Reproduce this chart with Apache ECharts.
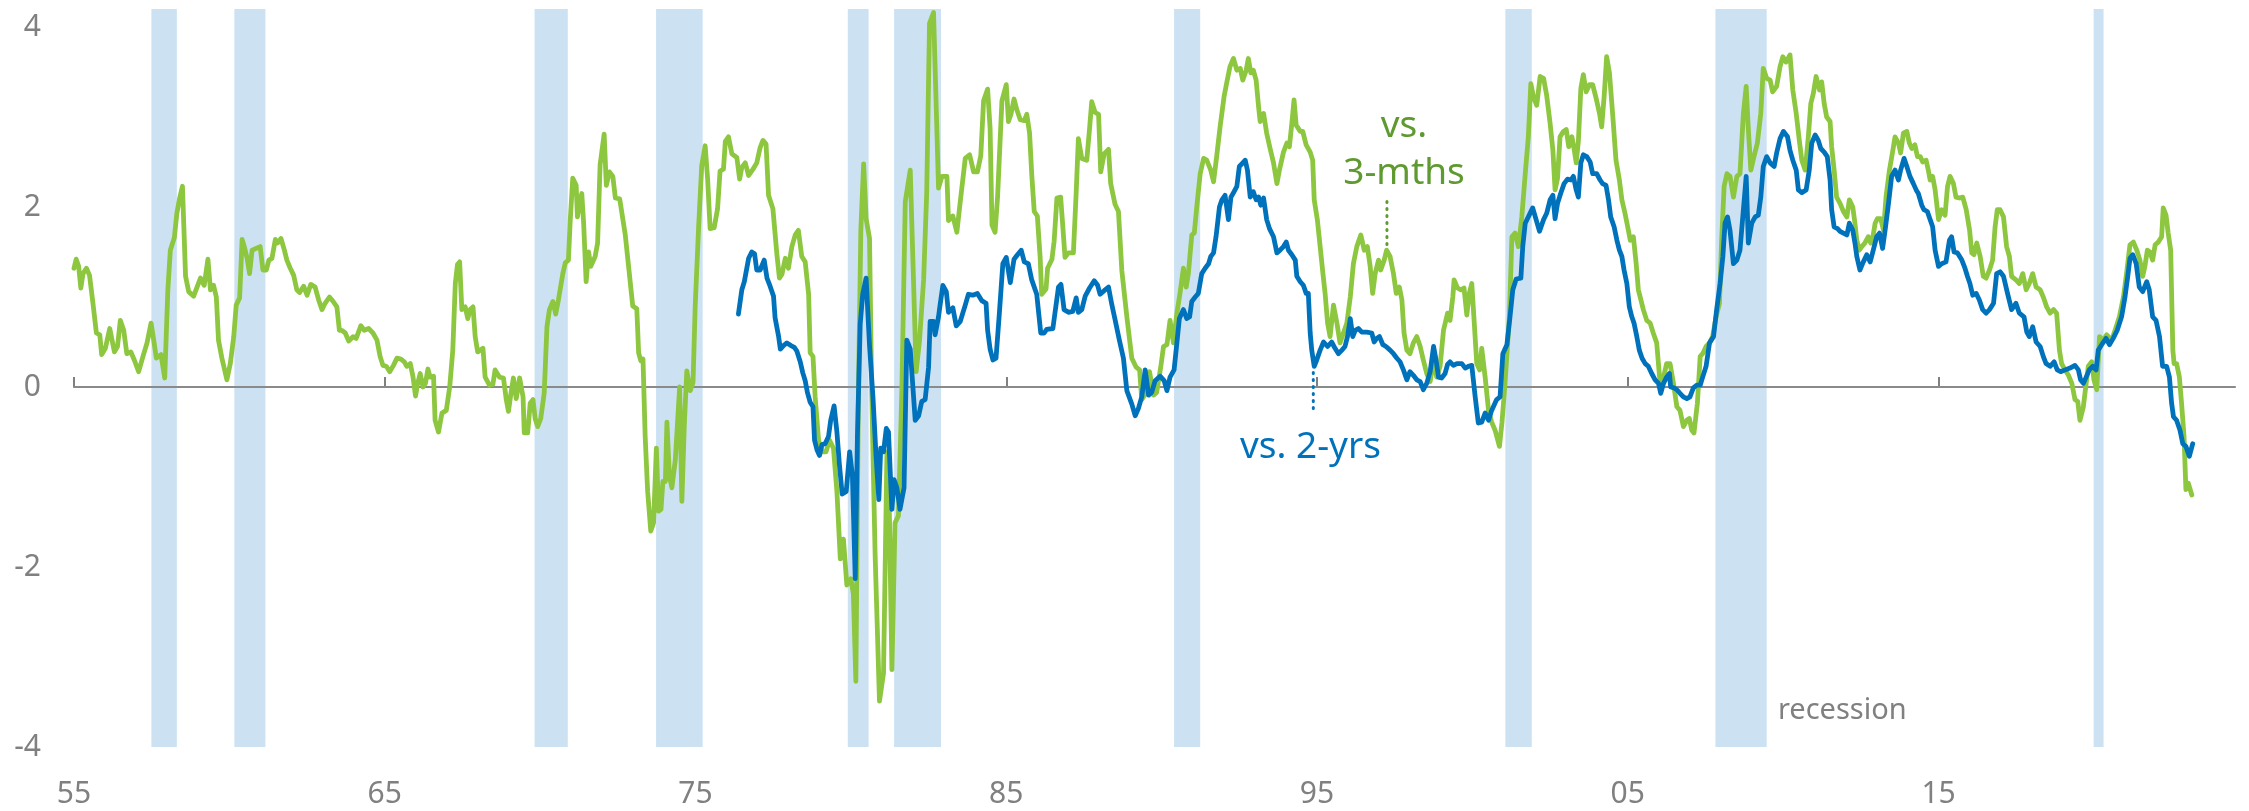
<!DOCTYPE html>
<html>
<head>
<meta charset="utf-8">
<script src="https://cdn.jsdelivr.net/npm/echarts@6/dist/echarts.min.js"></script>
<style>
  html, body { margin: 0; padding: 0; background: #ffffff; }
  #chart { width: 2249px; height: 811px; }
</style>
</head>
<body>
<div id="chart"></div>
<script>
// US recession periods (decimal years, start / end)
const recessions = [
  [1957.49, 1958.31], [1960.16, 1961.16], [1969.82, 1970.89], [1973.73, 1975.23],
  [1979.90, 1980.57], [1981.39, 1982.90], [1990.40, 1991.24], [2001.06, 2001.91],
  [2007.82, 2009.47], [2019.99, 2020.31]
];

// x-axis tick years (shown as two-digit labels)
const xTickYears = [1955, 1965, 1975, 1985, 1995, 2005, 2015];

// y-axis tick values
const yTicks = [-4, -2, 0, 2, 4];

// Term spread: 10-yr yield vs. 3-month bill  [decimal year, %-pts]
const vs3m = [
  [1955.00,1.32],[1955.07,1.42],[1955.15,1.34],[1955.22,1.10],[1955.29,1.26],[1955.40,1.32],[1955.50,1.24],[1955.61,0.93],
  [1955.72,0.60],[1955.83,0.58],[1955.89,0.36],[1956.01,0.43],[1956.15,0.65],[1956.30,0.39],[1956.40,0.45],[1956.49,0.74],
  [1956.60,0.63],[1956.70,0.37],[1956.83,0.39],[1956.94,0.30],[1957.08,0.17],[1957.22,0.34],[1957.35,0.49],[1957.48,0.71],
  [1957.54,0.58],[1957.65,0.32],[1957.80,0.36],[1957.92,0.10],[1958.02,1.08],[1958.10,1.52],[1958.23,1.66],[1958.31,1.93],
  [1958.40,2.10],[1958.49,2.23],[1958.59,1.23],[1958.69,1.06],[1958.85,1.01],[1958.96,1.11],[1959.07,1.21],[1959.19,1.13],
  [1959.31,1.42],[1959.39,1.08],[1959.49,1.13],[1959.58,1.00],[1959.65,0.52],[1959.76,0.32],[1959.92,0.08],[1960.03,0.26],
  [1960.14,0.56],[1960.22,0.91],[1960.33,0.99],[1960.41,1.64],[1960.48,1.56],[1960.57,1.43],[1960.65,1.26],[1960.73,1.52],
  [1960.86,1.54],[1960.99,1.56],[1961.08,1.30],[1961.19,1.30],[1961.27,1.41],[1961.37,1.43],[1961.48,1.64],[1961.55,1.60],
  [1961.66,1.65],[1961.77,1.52],[1961.85,1.41],[1961.96,1.32],[1962.07,1.24],[1962.17,1.08],[1962.26,1.05],[1962.39,1.12],
  [1962.50,1.02],[1962.62,1.14],[1962.76,1.11],[1962.87,0.97],[1962.98,0.86],[1963.08,0.93],[1963.22,1.00],[1963.34,0.95],
  [1963.46,0.89],[1963.54,0.63],[1963.62,0.63],[1963.73,0.60],[1963.84,0.51],[1963.98,0.56],[1964.08,0.54],[1964.23,0.68],
  [1964.34,0.63],[1964.48,0.65],[1964.62,0.60],[1964.75,0.52],[1964.85,0.34],[1964.94,0.24],[1965.05,0.23],[1965.16,0.17],
  [1965.28,0.24],[1965.39,0.32],[1965.52,0.31],[1965.63,0.28],[1965.71,0.23],[1965.82,0.26],[1965.91,0.11],[1965.99,-0.10],
  [1966.06,0.04],[1966.14,0.15],[1966.23,0.00],[1966.31,0.04],[1966.39,0.20],[1966.46,0.11],[1966.57,0.12],[1966.62,-0.37],
  [1966.73,-0.50],[1966.84,-0.29],[1966.98,-0.26],[1967.09,0.00],[1967.19,0.41],[1967.27,1.15],[1967.34,1.36],[1967.41,1.39],
  [1967.48,0.86],[1967.59,0.89],[1967.67,0.76],[1967.75,0.86],[1967.84,0.89],[1967.91,0.56],[1967.99,0.39],[1968.16,0.43],
  [1968.23,0.11],[1968.37,0.02],[1968.48,0.03],[1968.55,0.19],[1968.69,0.11],[1968.82,0.10],[1968.91,-0.14],[1968.98,-0.27],
  [1969.06,-0.07],[1969.14,0.10],[1969.23,-0.13],[1969.34,0.10],[1969.45,-0.11],[1969.49,-0.51],[1969.60,-0.51],[1969.68,-0.18],
  [1969.77,-0.14],[1969.84,-0.35],[1969.92,-0.44],[1970.02,-0.35],[1970.13,-0.07],[1970.22,0.67],[1970.30,0.86],[1970.41,0.95],
  [1970.50,0.81],[1970.59,0.97],[1970.73,1.26],[1970.81,1.38],[1970.91,1.41],[1970.97,1.86],[1971.05,2.32],[1971.16,2.24],
  [1971.20,1.89],[1971.27,2.04],[1971.34,2.15],[1971.40,1.82],[1971.48,1.17],[1971.56,1.50],[1971.63,1.34],[1971.77,1.45],
  [1971.85,1.60],[1971.93,2.47],[1972.06,2.81],[1972.13,2.24],[1972.23,2.39],[1972.34,2.34],[1972.42,2.10],[1972.56,2.09],
  [1972.74,1.69],[1972.98,0.90],[1973.11,0.87],[1973.17,0.38],[1973.24,0.29],[1973.31,0.31],[1973.38,-0.55],[1973.46,-1.16],
  [1973.56,-1.60],[1973.65,-1.51],[1973.74,-0.68],[1973.81,-1.38],[1973.89,-1.36],[1973.95,-1.05],[1974.03,-1.05],[1974.08,-0.39],
  [1974.16,-0.99],[1974.24,-1.12],[1974.35,-0.81],[1974.49,0.00],[1974.56,-1.27],[1974.64,-0.42],[1974.72,0.18],[1974.83,-0.04],
  [1974.92,0.05],[1974.99,0.90],[1975.10,1.78],[1975.20,2.46],[1975.31,2.68],[1975.39,2.31],[1975.47,1.76],[1975.60,1.77],
  [1975.71,1.98],[1975.79,2.40],[1975.90,2.42],[1975.96,2.73],[1976.06,2.78],[1976.17,2.59],[1976.33,2.55],[1976.42,2.31],
  [1976.49,2.44],[1976.60,2.49],[1976.71,2.35],[1976.85,2.42],[1976.97,2.49],[1977.08,2.66],[1977.17,2.74],[1977.27,2.70],
  [1977.35,2.13],[1977.49,1.98],[1977.62,1.47],[1977.70,1.21],[1977.78,1.25],[1977.89,1.43],[1977.99,1.32],[1978.10,1.56],
  [1978.21,1.69],[1978.31,1.74],[1978.42,1.45],[1978.53,1.39],[1978.64,1.03],[1978.69,0.38],[1978.78,0.34],[1978.85,-0.11],
  [1978.96,-0.59],[1979.07,-0.72],[1979.20,-0.72],[1979.31,-0.59],[1979.44,-0.68],[1979.55,-1.16],[1979.66,-1.91],[1979.76,-1.69],
  [1979.87,-2.20],[1980.00,-2.13],[1980.08,-2.30],[1980.16,-3.27],[1980.24,-0.11],[1980.32,1.74],[1980.41,2.48],[1980.49,1.87],
  [1980.60,1.65],[1980.67,-0.06],[1980.78,-1.87],[1980.92,-3.49],[1981.05,-3.18],[1981.16,-0.72],[1981.24,-1.43],[1981.32,-3.14],
  [1981.42,-1.51],[1981.53,-1.43],[1981.64,-0.04],[1981.75,2.06],[1981.91,2.41],[1982.01,1.24],[1982.10,0.17],[1982.21,0.52],
  [1982.34,1.19],[1982.44,2.16],[1982.53,4.04],[1982.66,4.16],[1982.74,3.18],[1982.82,2.21],[1982.93,2.34],[1983.09,2.34],
  [1983.14,1.85],[1983.28,1.90],[1983.41,1.72],[1983.52,2.06],[1983.68,2.54],[1983.82,2.58],[1983.95,2.39],[1984.07,2.39],
  [1984.18,2.57],[1984.27,3.18],[1984.40,3.31],[1984.48,2.87],[1984.54,1.80],[1984.64,1.72],[1984.72,2.11],[1984.86,3.18],
  [1985.00,3.36],[1985.07,2.95],[1985.15,3.03],[1985.25,3.20],[1985.34,3.08],[1985.45,2.97],[1985.58,2.96],[1985.66,3.03],
  [1985.75,2.82],[1985.82,2.36],[1985.90,1.95],[1986.00,1.90],[1986.09,1.44],[1986.14,1.03],[1986.28,1.09],[1986.33,1.32],
  [1986.47,1.42],[1986.54,1.62],[1986.63,2.10],[1986.75,2.11],[1986.82,1.78],[1986.89,1.44],[1987.00,1.49],[1987.16,1.49],
  [1987.25,2.16],[1987.32,2.76],[1987.43,2.54],[1987.59,2.52],[1987.68,2.87],[1987.75,3.17],[1987.86,3.05],[1987.97,3.03],
  [1988.04,2.39],[1988.15,2.59],[1988.29,2.64],[1988.36,2.26],[1988.50,2.03],[1988.61,1.95],[1988.72,1.29],[1988.88,0.78],
  [1989.04,0.32],[1989.18,0.22],[1989.29,0.19],[1989.36,-0.14],[1989.47,-0.08],[1989.61,0.17],[1989.74,-0.09],[1989.84,-0.06],
  [1989.97,0.22],[1990.06,0.45],[1990.17,0.47],[1990.27,0.74],[1990.38,0.49],[1990.49,0.82],[1990.59,1.04],[1990.70,1.32],
  [1990.79,1.11],[1990.86,1.26],[1990.97,1.69],[1991.05,1.71],[1991.13,2.00],[1991.24,2.37],[1991.35,2.54],[1991.45,2.52],
  [1991.58,2.41],[1991.67,2.28],[1991.77,2.56],[1991.88,2.89],[1992.01,3.23],[1992.10,3.39],[1992.20,3.56],[1992.31,3.65],
  [1992.42,3.52],[1992.53,3.54],[1992.61,3.41],[1992.72,3.52],[1992.79,3.65],[1992.87,3.49],[1992.95,3.52],[1993.04,3.41],
  [1993.12,3.11],[1993.17,2.95],[1993.28,3.04],[1993.38,2.82],[1993.49,2.65],[1993.60,2.49],[1993.71,2.26],[1993.79,2.41],
  [1993.92,2.61],[1994.03,2.71],[1994.11,2.67],[1994.19,2.93],[1994.26,3.19],[1994.33,2.91],[1994.46,2.84],[1994.54,2.84],
  [1994.65,2.69],[1994.78,2.61],[1994.86,2.52],[1994.91,2.08],[1995.01,1.86],[1995.10,1.56],[1995.19,1.26],[1995.26,1.04],
  [1995.34,0.71],[1995.42,0.56],[1995.53,0.91],[1995.64,0.71],[1995.74,0.49],[1995.85,0.60],[1995.96,0.71],[1996.07,1.00],
  [1996.17,1.37],[1996.28,1.56],[1996.41,1.69],[1996.52,1.52],[1996.62,1.56],[1996.71,1.34],[1996.79,1.04],[1996.87,1.26],
  [1996.98,1.41],[1997.05,1.30],[1997.16,1.41],[1997.24,1.52],[1997.35,1.45],[1997.46,1.26],[1997.55,1.04],[1997.65,1.11],
  [1997.73,0.97],[1997.80,0.60],[1997.89,0.41],[1997.99,0.37],[1998.10,0.49],[1998.21,0.56],[1998.32,0.45],[1998.42,0.30],
  [1998.53,0.15],[1998.64,0.06],[1998.75,0.30],[1998.85,0.11],[1998.96,0.23],[1999.07,0.63],[1999.20,0.82],[1999.28,0.74],
  [1999.37,1.00],[1999.41,1.19],[1999.52,1.10],[1999.63,1.08],[1999.73,1.10],[1999.82,0.80],[1999.90,1.04],[1999.98,1.15],
  [2000.06,0.71],[2000.14,0.26],[2000.23,0.19],[2000.30,0.43],[2000.41,0.11],[2000.52,-0.26],[2000.62,-0.39],[2000.73,-0.48],
  [2000.87,-0.66],[2000.95,-0.40],[2001.05,0.04],[2001.19,0.78],[2001.27,1.67],[2001.37,1.71],[2001.48,1.56],[2001.59,1.89],
  [2001.70,2.37],[2001.80,2.78],[2001.88,3.37],[2001.96,3.23],[2002.07,3.13],[2002.18,3.45],[2002.29,3.43],[2002.39,3.24],
  [2002.50,2.93],[2002.59,2.63],[2002.66,2.19],[2002.74,2.32],[2002.82,2.78],[2002.93,2.84],[2003.02,2.86],[2003.10,2.67],
  [2003.20,2.78],[2003.27,2.65],[2003.34,2.49],[2003.41,2.73],[2003.49,3.32],[2003.57,3.47],[2003.66,3.28],[2003.77,3.36],
  [2003.87,3.36],[2003.98,3.21],[2004.09,3.04],[2004.16,2.89],[2004.24,3.23],[2004.32,3.67],[2004.41,3.49],[2004.52,3.00],
  [2004.62,2.52],[2004.73,2.30],[2004.81,2.08],[2004.91,1.93],[2005.02,1.74],[2005.08,1.63],[2005.18,1.67],[2005.27,1.37],
  [2005.34,1.08],[2005.42,0.97],[2005.50,0.86],[2005.61,0.74],[2005.72,0.71],[2005.82,0.60],[2005.93,0.49],[2006.04,0.04],
  [2006.15,0.11],[2006.25,0.26],[2006.36,0.26],[2006.47,0.04],[2006.58,-0.22],[2006.68,-0.26],[2006.79,-0.44],[2006.90,-0.37],
  [2006.98,-0.35],[2007.06,-0.48],[2007.13,-0.51],[2007.24,-0.18],[2007.33,0.34],[2007.41,0.37],[2007.52,0.45],[2007.63,0.49],
  [2007.73,0.56],[2007.84,0.78],[2007.95,0.93],[2008.02,1.63],[2008.10,2.23],[2008.19,2.37],[2008.29,2.34],[2008.40,2.11],
  [2008.51,2.34],[2008.61,2.37],[2008.72,3.04],[2008.81,3.34],[2008.88,2.86],[2008.96,2.41],[2009.06,2.56],[2009.17,2.71],
  [2009.28,3.04],[2009.36,3.54],[2009.47,3.43],[2009.58,3.41],[2009.66,3.28],[2009.79,3.34],[2009.90,3.56],[2009.99,3.67],
  [2010.09,3.61],[2010.22,3.69],[2010.31,3.30],[2010.42,3.04],[2010.52,2.74],[2010.60,2.52],[2010.71,2.41],[2010.81,2.78],
  [2010.89,3.15],[2010.97,3.26],[2011.06,3.45],[2011.17,3.30],[2011.24,3.39],[2011.32,3.15],[2011.40,3.00],[2011.51,2.95],
  [2011.56,2.67],[2011.64,2.41],[2011.72,2.11],[2011.83,2.04],[2011.94,1.95],[2012.05,1.89],[2012.13,2.08],[2012.24,2.00],
  [2012.31,1.82],[2012.37,1.63],[2012.45,1.52],[2012.53,1.56],[2012.63,1.60],[2012.74,1.67],[2012.82,1.60],[2012.88,1.65],
  [2012.96,1.82],[2013.03,1.87],[2013.14,1.87],[2013.23,1.74],[2013.31,2.11],[2013.42,2.41],[2013.53,2.63],[2013.60,2.78],
  [2013.71,2.71],[2013.78,2.60],[2013.87,2.82],[2013.98,2.84],[2014.06,2.71],[2014.14,2.65],[2014.24,2.69],[2014.32,2.56],
  [2014.41,2.56],[2014.49,2.50],[2014.60,2.52],[2014.67,2.41],[2014.73,2.30],[2014.81,2.34],[2014.89,2.19],[2015.00,1.86],
  [2015.10,1.97],[2015.21,1.91],[2015.29,2.23],[2015.37,2.34],[2015.48,2.26],[2015.56,2.11],[2015.67,2.10],[2015.78,2.11],
  [2015.89,1.97],[2016.00,1.74],[2016.07,1.49],[2016.14,1.47],[2016.23,1.60],[2016.34,1.45],[2016.44,1.23],[2016.53,1.21],
  [2016.64,1.30],[2016.74,1.41],[2016.82,1.78],[2016.89,1.97],[2016.98,1.97],[2017.09,1.89],[2017.19,1.56],[2017.28,1.45],
  [2017.35,1.23],[2017.49,1.19],[2017.60,1.15],[2017.71,1.26],[2017.82,1.08],[2017.92,1.15],[2018.03,1.26],[2018.14,1.11],
  [2018.27,1.08],[2018.37,1.00],[2018.48,0.89],[2018.59,0.82],[2018.70,0.86],[2018.80,0.82],[2018.89,0.41],[2018.96,0.26],
  [2019.07,0.19],[2019.18,0.13],[2019.29,0.04],[2019.39,-0.14],[2019.48,-0.16],[2019.55,-0.37],[2019.66,-0.22],[2019.75,0.04],
  [2019.82,0.23],[2019.93,0.28],[2020.00,0.08],[2020.09,-0.03],[2020.18,0.56],[2020.30,0.52],[2020.41,0.58],[2020.57,0.52],
  [2020.68,0.63],[2020.82,0.78],[2020.95,1.00],[2021.05,1.26],[2021.16,1.58],[2021.27,1.61],[2021.38,1.52],[2021.48,1.41],
  [2021.57,1.23],[2021.64,1.34],[2021.72,1.52],[2021.80,1.50],[2021.89,1.41],[2021.97,1.58],[2022.07,1.61],[2022.18,1.67],
  [2022.23,1.99],[2022.32,1.91],[2022.39,1.71],[2022.47,1.52],[2022.54,0.41],[2022.58,0.26],[2022.66,0.26],[2022.75,0.11],
  [2022.82,-0.18],[2022.90,-0.55],[2022.96,-1.14],[2023.04,-1.07],[2023.15,-1.20]
];

// Term spread: 10-yr yield vs. 2-yr yield  [decimal year, %-pts]
const vs2y = [
  [1976.38,0.81],[1976.49,1.08],[1976.57,1.17],[1976.71,1.43],[1976.81,1.50],[1976.90,1.48],[1976.97,1.30],[1977.08,1.30],
  [1977.21,1.41],[1977.30,1.21],[1977.40,1.12],[1977.51,1.01],[1977.56,0.77],[1977.67,0.57],[1977.73,0.42],[1977.83,0.46],
  [1977.94,0.49],[1978.07,0.46],[1978.18,0.44],[1978.26,0.40],[1978.37,0.28],[1978.45,0.16],[1978.53,0.07],[1978.60,-0.06],
  [1978.69,-0.17],[1978.78,-0.22],[1978.83,-0.59],[1978.91,-0.70],[1978.99,-0.76],[1979.07,-0.64],[1979.17,-0.63],[1979.28,-0.55],
  [1979.35,-0.37],[1979.46,-0.21],[1979.55,-0.50],[1979.63,-0.86],[1979.72,-1.19],[1979.85,-1.16],[1979.96,-0.72],[1980.05,-0.99],
  [1980.14,-2.13],[1980.21,-0.55],[1980.30,0.70],[1980.38,1.03],[1980.49,1.21],[1980.60,0.46],[1980.71,-0.11],[1980.81,-0.77],
  [1980.90,-1.25],[1980.96,-0.68],[1981.05,-0.72],[1981.14,-0.46],[1981.21,-0.50],[1981.32,-1.36],[1981.39,-1.03],[1981.48,-1.12],
  [1981.58,-1.36],[1981.71,-1.12],[1981.80,0.52],[1981.91,0.42],[1982.07,-0.37],[1982.18,-0.32],[1982.28,-0.16],[1982.39,-0.14],
  [1982.50,0.22],[1982.55,0.73],[1982.66,0.73],[1982.71,0.58],[1982.82,0.78],[1982.87,0.91],[1982.96,1.13],[1983.07,1.06],
  [1983.14,0.83],[1983.28,0.88],[1983.39,0.68],[1983.52,0.73],[1983.68,0.91],[1983.78,1.03],[1983.92,1.02],[1984.07,1.04],
  [1984.21,0.96],[1984.35,0.93],[1984.40,0.63],[1984.48,0.42],[1984.57,0.30],[1984.67,0.32],[1984.78,0.83],[1984.89,1.37],
  [1985.00,1.44],[1985.13,1.16],[1985.25,1.42],[1985.36,1.47],[1985.48,1.52],[1985.58,1.39],[1985.71,1.37],[1985.82,1.19],
  [1985.98,1.03],[1986.11,0.60],[1986.22,0.60],[1986.30,0.64],[1986.50,0.65],[1986.57,0.83],[1986.68,1.11],[1986.76,1.14],
  [1986.86,0.86],[1987.00,0.83],[1987.14,0.84],[1987.25,0.99],[1987.32,0.83],[1987.43,0.86],[1987.54,1.01],[1987.68,1.10],
  [1987.83,1.18],[1987.94,1.13],[1988.02,1.03],[1988.15,1.07],[1988.29,1.11],[1988.40,0.91],[1988.50,0.75],[1988.64,0.52],
  [1988.77,0.32],[1988.88,-0.04],[1989.04,-0.19],[1989.15,-0.32],[1989.25,-0.24],[1989.36,-0.11],[1989.47,0.19],[1989.58,-0.09],
  [1989.68,-0.06],[1989.79,0.07],[1989.95,0.12],[1990.08,0.07],[1990.17,-0.04],[1990.27,0.11],[1990.40,0.19],[1990.49,0.49],
  [1990.57,0.76],[1990.70,0.86],[1990.81,0.76],[1990.90,0.78],[1990.97,0.95],[1991.08,1.00],[1991.18,1.04],[1991.29,1.26],
  [1991.40,1.32],[1991.51,1.37],[1991.58,1.45],[1991.67,1.49],[1991.75,1.67],[1991.86,2.00],[1991.94,2.08],[1992.04,2.13],
  [1992.15,1.86],[1992.23,2.11],[1992.33,2.17],[1992.42,2.23],[1992.50,2.45],[1992.61,2.49],[1992.69,2.52],[1992.76,2.41],
  [1992.85,2.11],[1992.95,2.17],[1993.04,2.08],[1993.12,2.11],[1993.19,2.02],[1993.28,2.10],[1993.38,1.86],[1993.47,1.76],
  [1993.60,1.67],[1993.71,1.49],[1993.81,1.52],[1993.92,1.56],[1994.01,1.61],[1994.08,1.52],[1994.19,1.47],[1994.30,1.41],
  [1994.35,1.23],[1994.46,1.17],[1994.56,1.13],[1994.65,1.04],[1994.72,1.04],[1994.78,0.60],[1994.83,0.41],[1994.91,0.23],
  [1994.99,0.30],[1995.10,0.41],[1995.21,0.50],[1995.34,0.45],[1995.47,0.50],[1995.58,0.43],[1995.69,0.37],[1995.80,0.41],
  [1995.90,0.45],[1995.98,0.56],[1996.07,0.76],[1996.15,0.56],[1996.23,0.63],[1996.33,0.65],[1996.44,0.61],[1996.60,0.61],
  [1996.76,0.60],[1996.84,0.50],[1996.92,0.54],[1997.01,0.56],[1997.12,0.47],[1997.22,0.45],[1997.35,0.41],[1997.46,0.37],
  [1997.57,0.32],[1997.67,0.28],[1997.78,0.19],[1997.89,0.08],[1997.99,0.17],[1998.10,0.13],[1998.21,0.08],[1998.32,0.06],
  [1998.42,-0.03],[1998.53,0.04],[1998.64,0.17],[1998.75,0.45],[1998.83,0.30],[1998.91,0.11],[1999.01,0.10],[1999.12,0.15],
  [1999.20,0.25],[1999.28,0.28],[1999.39,0.24],[1999.50,0.26],[1999.66,0.26],[1999.77,0.21],[1999.87,0.23],[1999.98,0.24],
  [2000.09,-0.11],[2000.19,-0.40],[2000.30,-0.39],[2000.41,-0.29],[2000.52,-0.37],[2000.62,-0.26],[2000.78,-0.14],[2000.89,-0.11],
  [2000.98,0.37],[2001.11,0.47],[2001.21,0.78],[2001.30,1.08],[2001.41,1.20],[2001.56,1.21],[2001.62,1.56],[2001.70,1.82],
  [2001.80,1.89],[2001.94,1.99],[2002.05,1.86],[2002.16,1.73],[2002.29,1.86],[2002.39,1.93],[2002.50,2.08],[2002.59,2.13],
  [2002.66,1.87],[2002.74,2.04],[2002.84,2.15],[2002.95,2.26],[2003.06,2.31],[2003.17,2.30],[2003.25,2.34],[2003.34,2.19],
  [2003.41,2.11],[2003.49,2.49],[2003.57,2.58],[2003.68,2.56],[2003.79,2.50],[2003.87,2.37],[2004.00,2.37],[2004.11,2.30],
  [2004.19,2.26],[2004.30,2.24],[2004.38,2.08],[2004.45,1.89],[2004.56,1.78],[2004.65,1.63],[2004.73,1.52],[2004.81,1.45],
  [2004.88,1.30],[2004.97,1.15],[2005.05,0.89],[2005.13,0.78],[2005.20,0.71],[2005.29,0.56],[2005.37,0.41],[2005.46,0.32],
  [2005.56,0.26],[2005.66,0.23],[2005.77,0.15],[2005.88,0.08],[2005.99,0.04],[2006.06,-0.07],[2006.15,0.04],[2006.25,0.11],
  [2006.34,0.15],[2006.38,0.00],[2006.49,-0.01],[2006.58,-0.03],[2006.68,-0.07],[2006.79,-0.11],[2006.90,-0.13],[2007.00,-0.11],
  [2007.11,-0.01],[2007.22,0.02],[2007.33,0.02],[2007.41,0.11],[2007.52,0.23],[2007.63,0.49],[2007.76,0.56],[2007.86,0.86],
  [2007.97,1.15],[2008.06,1.45],[2008.13,1.82],[2008.21,1.89],[2008.29,1.74],[2008.40,1.37],[2008.51,1.41],[2008.61,1.52],
  [2008.72,1.97],[2008.81,2.34],[2008.88,1.60],[2008.99,1.82],[2009.10,1.89],[2009.20,1.91],[2009.28,2.11],[2009.36,2.45],
  [2009.47,2.56],[2009.58,2.49],[2009.71,2.45],[2009.79,2.60],[2009.90,2.76],[2010.01,2.84],[2010.14,2.78],[2010.22,2.63],
  [2010.31,2.52],[2010.42,2.41],[2010.49,2.19],[2010.60,2.16],[2010.74,2.19],[2010.84,2.41],[2010.92,2.71],[2011.03,2.80],
  [2011.13,2.74],[2011.21,2.65],[2011.32,2.61],[2011.42,2.56],[2011.51,2.30],[2011.56,1.97],[2011.64,1.78],[2011.75,1.76],
  [2011.83,1.73],[2011.94,1.71],[2012.05,1.69],[2012.13,1.82],[2012.24,1.74],[2012.31,1.60],[2012.37,1.45],[2012.47,1.30],
  [2012.58,1.39],[2012.69,1.47],[2012.80,1.39],[2012.90,1.52],[2013.01,1.67],[2013.10,1.71],[2013.20,1.54],[2013.28,1.74],
  [2013.39,2.04],[2013.49,2.34],[2013.60,2.41],[2013.71,2.30],[2013.78,2.41],[2013.89,2.54],[2013.98,2.45],[2014.08,2.34],
  [2014.19,2.26],[2014.28,2.19],[2014.35,2.15],[2014.46,2.02],[2014.53,1.97],[2014.64,1.95],[2014.73,1.86],[2014.81,1.78],
  [2014.89,1.52],[2015.00,1.34],[2015.10,1.37],[2015.24,1.39],[2015.35,1.63],[2015.42,1.67],[2015.50,1.50],[2015.61,1.49],
  [2015.75,1.41],[2015.85,1.32],[2015.93,1.23],[2016.01,1.15],[2016.10,1.02],[2016.21,1.04],[2016.31,0.97],[2016.42,0.86],
  [2016.53,0.82],[2016.64,0.86],[2016.77,0.93],[2016.87,1.26],[2016.98,1.28],[2017.09,1.23],[2017.22,1.04],[2017.35,0.86],
  [2017.49,0.93],[2017.60,0.82],[2017.75,0.78],[2017.84,0.61],[2017.92,0.56],[2018.03,0.67],[2018.14,0.50],[2018.27,0.45],
  [2018.37,0.34],[2018.46,0.26],[2018.59,0.23],[2018.72,0.28],[2018.82,0.19],[2018.93,0.17],[2019.07,0.19],[2019.23,0.21],
  [2019.39,0.24],[2019.50,0.19],[2019.57,0.08],[2019.66,0.04],[2019.75,0.11],[2019.85,0.19],[2019.96,0.23],[2020.07,0.19],
  [2020.14,0.41],[2020.25,0.47],[2020.39,0.54],[2020.50,0.47],[2020.62,0.54],[2020.75,0.63],[2020.89,0.78],[2021.00,1.00],
  [2021.09,1.23],[2021.16,1.43],[2021.25,1.47],[2021.36,1.37],[2021.46,1.11],[2021.57,1.06],[2021.70,1.17],[2021.78,1.08],
  [2021.89,0.78],[2022.00,0.74],[2022.11,0.56],[2022.21,0.23],[2022.34,0.23],[2022.43,0.11],[2022.50,-0.18],[2022.56,-0.33],
  [2022.66,-0.37],[2022.77,-0.48],[2022.86,-0.63],[2022.96,-0.66],[2023.07,-0.77],[2023.18,-0.63]
];

const FONT = '"Noto Sans", "Open Sans", sans-serif';
const GREEN = '#8DC63F';
const GREEN_TEXT = '#5F9A30';
const BLUE = '#0072BC';
const GREY = '#808080';

const chart = echarts.init(document.getElementById('chart'), null, { renderer: 'canvas' });

chart.setOption({
  animation: false,
  backgroundColor: '#ffffff',
  textStyle: { fontFamily: FONT },
  grid: { left: 74, right: 14, top: 9, bottom: 64, containLabel: false },
  xAxis: {
    type: 'value',
    min: 1955,
    max: 2024.54,
    axisLine: { show: true, lineStyle: { color: GREY, width: 2 } },
    axisTick: {
      show: true, inside: true, length: 10,
      customValues: xTickYears,
      lineStyle: { color: GREY, width: 2 }
    },
    axisLabel: {
      customValues: xTickYears,
      formatter: v => String(Math.round(v) % 100).padStart(2, '0'),
      color: GREY, fontSize: 30, fontFamily: FONT, margin: 32
    },
    splitLine: { show: false }
  },
  yAxis: {
    type: 'value',
    min: -4,
    max: 4.2,
    interval: 2,
    axisLine: { show: false },
    axisTick: { show: false },
    splitLine: { show: false },
    axisLabel: {
      customValues: yTicks,
      formatter: v => String(v),
      color: GREY, fontSize: 30, fontFamily: FONT, margin: 33
    }
  },
  series: [
    {
      name: 'vs. 3-mths',
      type: 'line',
      data: vs3m,
      showSymbol: false,
      symbol: 'none',
      z: 2,
      lineStyle: { color: GREEN, width: 4.8, join: 'round', cap: 'round' },
      markArea: {
        silent: true,
        z: 1,
        itemStyle: { color: '#CCE2F3' },
        data: recessions.map(([s, e]) => [{ xAxis: s }, { xAxis: e }])
      },
      markLine: {
        silent: true,
        z: 1.5,
        symbol: ['none', 'none'],
        label: { show: false },
        lineStyle: { color: '#8a8a8a', width: 2, type: 'solid' },
        data: [{ yAxis: 0 }]
      }
    },
    {
      name: 'vs. 2-yrs',
      type: 'line',
      data: vs2y,
      showSymbol: false,
      symbol: 'none',
      z: 3,
      lineStyle: { color: BLUE, width: 4.8, join: 'round', cap: 'round' }
    }
  ]
});

// Annotations placed in data coordinates
const px = (x, y) => chart.convertToPixel({ gridIndex: 0 }, [x, y]);
const g3a = px(1997.25, 2.06), g3b = px(1997.25, 1.58);
const t3 = px(1997.80, 2.63);
const g2a = px(1994.88, 0.16), g2b = px(1994.88, -0.26);
const t2 = px(1992.52, -0.67);
const tr = px(2009.83, -3.60);

chart.setOption({
  graphic: [
    {
      type: 'line', silent: true, z: 10,
      shape: { x1: g3a[0], y1: g3a[1], x2: g3b[0], y2: g3b[1] },
      style: { stroke: GREEN_TEXT, lineWidth: 3, lineDash: [1, 6], lineCap: 'round' }
    },
    {
      type: 'text', silent: true, z: 10,
      x: t3[0], y: t3[1],
      style: {
        text: 'vs.\n3-mths', fill: GREEN_TEXT, font: '37px ' + FONT,
        align: 'center', verticalAlign: 'middle', lineHeight: 47
      }
    },
    {
      type: 'line', silent: true, z: 10,
      shape: { x1: g2a[0], y1: g2a[1], x2: g2b[0], y2: g2b[1] },
      style: { stroke: BLUE, lineWidth: 3, lineDash: [1, 6], lineCap: 'round' }
    },
    {
      type: 'text', silent: true, z: 10,
      x: t2[0], y: t2[1],
      style: {
        text: 'vs. 2-yrs', fill: BLUE, font: '37px ' + FONT,
        align: 'left', verticalAlign: 'middle'
      }
    },
    {
      type: 'text', silent: true, z: 10,
      x: tr[0], y: tr[1],
      style: {
        text: 'recession', fill: GREY, font: '29px ' + FONT,
        align: 'left', verticalAlign: 'middle'
      }
    }
  ]
});
</script>
</body>
</html>
